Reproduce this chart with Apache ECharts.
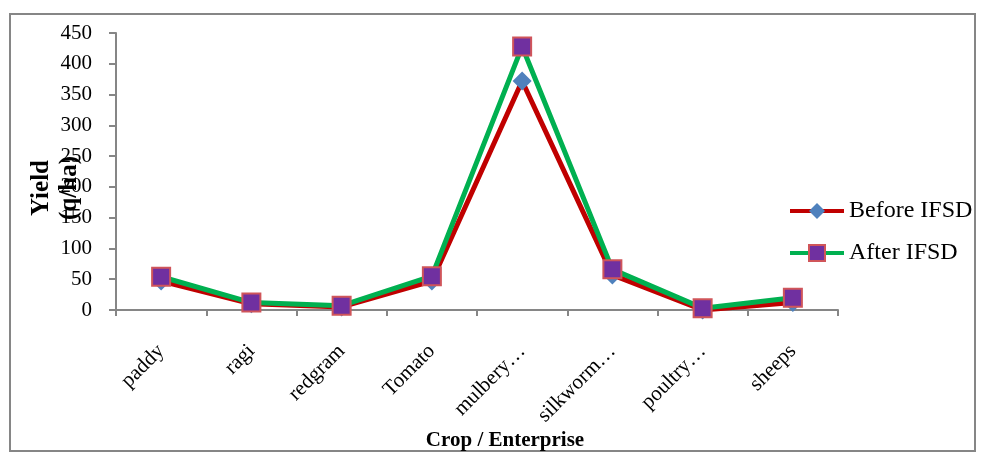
<!DOCTYPE html>
<html>
<head>
<meta charset="utf-8">
<script src="https://cdn.jsdelivr.net/npm/echarts@6/dist/echarts.min.js"></script>
<style>html,body{margin:0;padding:0;background:#fff}#c{width:985px;height:453px}</style>
</head>
<body>
<div id="c"></div>
<script>
var categories = ["paddy", "ragi", "redgram", "Tomato", "mulbery\u2026", "silkworm\u2026", "poultry\u2026", "sheeps"];
var beforeIFSD = [47, 10, 5, 47, 372, 57, 0, 12];
var afterIFSD = [54, 12, 7, 55, 428, 66, 3, 20];
var yTicks = {min: 0, max: 450, interval: 50};
var xTitle = 'Crop / Enterprise';
var yTitle = ['Yield', '(q/ha)'];

var font = "'Liberation Serif', 'Times New Roman', serif";
var chart = echarts.init(document.getElementById('c'), null, {renderer: 'canvas'});
chart.setOption({
  backgroundColor: '#ffffff',
  animation: false,
  grid: {left: 116, right: 147, top: 33, bottom: 143, containLabel: false},
  legend: {
    orient: 'vertical', left: 783, top: 194,
    itemWidth: 54, itemHeight: 20, itemGap: 18, itemTextGap: 5,
    lineStyle: {width: 4},
    textStyle: {fontFamily: font, fontSize: 24, color: '#000'},
    data: ['Before IFSD', 'After IFSD']
  },
  xAxis: {
    type: 'category', data: categories, boundaryGap: true,
    axisLine: {lineStyle: {color: '#868686', width: 2}},
    axisTick: {show: true, alignWithLabel: false, length: 6, lineStyle: {color: '#868686', width: 2}},
    axisLabel: {rotate: 45, fontFamily: font, fontSize: 21, color: '#000', margin: 38, interval: 0}
  },
  yAxis: {
    type: 'value', min: yTicks.min, max: yTicks.max, interval: yTicks.interval,
    splitLine: {show: false},
    axisLine: {show: true, lineStyle: {color: '#868686', width: 2}},
    axisTick: {show: true, length: 7, lineStyle: {color: '#868686', width: 2}},
    axisLabel: {fontFamily: font, fontSize: 21, color: '#000', margin: 24}
  },
  graphic: [
    {type: 'rect', shape: {x: 10, y: 14, width: 965, height: 437}, style: {fill: 'none', stroke: '#868686', lineWidth: 2}, z: -1},
    {type: 'text', x: 42, y: 188, rotation: Math.PI / 2, style: {text: yTitle[0], fontFamily: font, fontSize: 25, fontWeight: 'bold', fill: '#000', align: 'center', verticalAlign: 'middle'}},
    {type: 'text', x: 70, y: 188, rotation: Math.PI / 2, style: {text: yTitle[1], fontFamily: font, fontSize: 25, fontWeight: 'bold', fill: '#000', align: 'center', verticalAlign: 'middle'}},
    {type: 'text', x: 505, y: 441, style: {text: xTitle, fontFamily: font, fontSize: 21, fontWeight: 'bold', fill: '#000', align: 'center', verticalAlign: 'middle'}}
  ],
  series: [
    {
      name: 'Before IFSD', type: 'line', data: beforeIFSD,
      symbol: 'diamond', symbolSize: 19,
      lineStyle: {color: '#C00000', width: 5},
      itemStyle: {color: '#4F81BD'},
      z: 2
    },
    {
      name: 'After IFSD', type: 'line', data: afterIFSD,
      symbol: 'rect', symbolSize: 18,
      lineStyle: {color: '#00B050', width: 5},
      itemStyle: {color: '#7030A0', borderColor: '#D0555A', borderWidth: 2},
      z: 3
    }
  ]
});
</script>
</body>
</html>
